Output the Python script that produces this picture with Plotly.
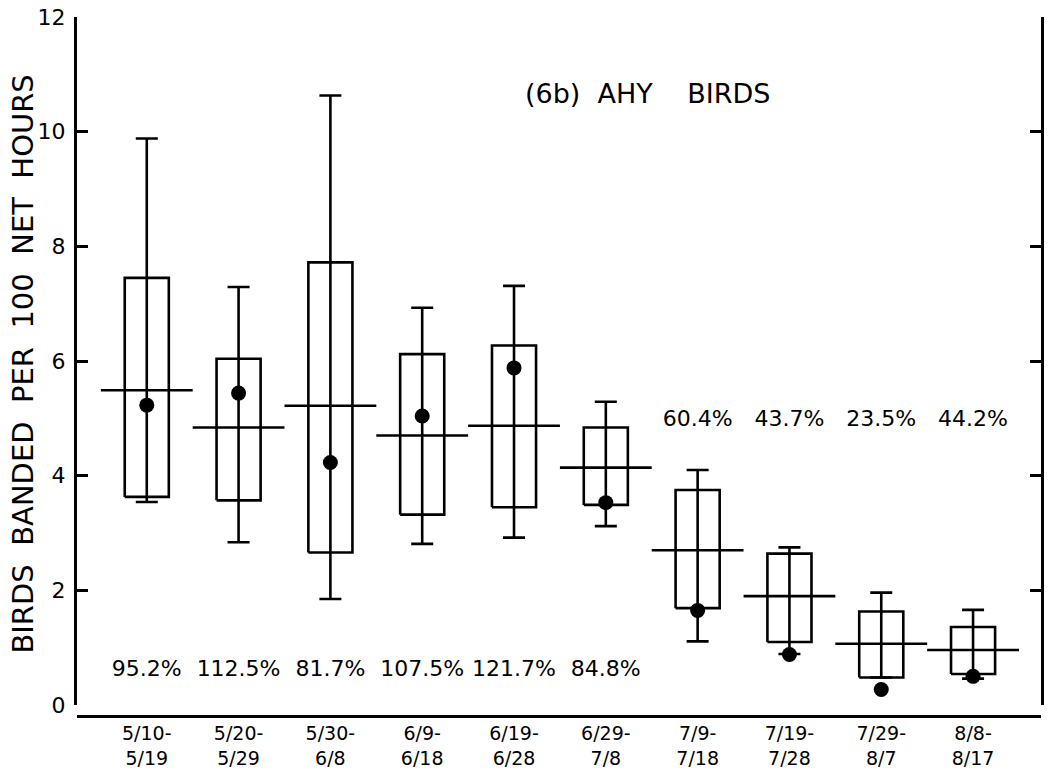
import plotly.graph_objects as go

# ---- data ----
periods = ["5/10-<br>5/19", "5/20-<br>5/29", "5/30-<br>6/8", "6/9-<br>6/18", "6/19-<br>6/28",
           "6/29-<br>7/8", "7/9-<br>7/18", "7/19-<br>7/28", "7/29-<br>8/7", "8/8-<br>8/17"]
whisker_high = [9.88, 7.29, 10.63, 6.93, 7.31, 5.29, 4.10, 2.75, 1.96, 1.66]
box_high = [7.45, 6.04, 7.72, 6.12, 6.27, 4.84, 3.75, 2.64, 1.63, 1.36]
mean_rate = [5.49, 4.84, 5.22, 4.70, 4.87, 4.14, 2.70, 1.90, 1.07, 0.96]
box_low = [3.63, 3.57, 2.66, 3.32, 3.45, 3.49, 1.69, 1.10, 0.48, 0.54]
whisker_low = [3.54, 2.84, 1.85, 2.81, 2.92, 3.12, 1.11, 0.89, 0.48, 0.46]
year_rate = [5.23, 5.44, 4.23, 5.04, 5.88, 3.53, 1.65, 0.88, 0.27, 0.50]
percent_labels = ["95.2%", "112.5%", "81.7%", "107.5%", "121.7%", "84.8%",
                  "60.4%", "43.7%", "23.5%", "44.2%"]
percent_row_low = [True, True, True, True, True, True, False, False, False, False]
y_ticks = [0, 2, 4, 6, 8, 10, 12]

FONT = "DejaVu Sans"
LW = 2.6
xs = list(range(len(periods)))
BOX_HALF = 0.24
MEAN_HALF = 0.5
NB = "\u00a0"

fig = go.Figure()

# boxes
bx, by = [], []
for i in xs:
    bx += [i - BOX_HALF, i + BOX_HALF, i + BOX_HALF, i - BOX_HALF, i - BOX_HALF, None]
    by += [box_low[i], box_low[i], box_high[i], box_high[i], box_low[i], None]
fig.add_trace(go.Scatter(x=bx, y=by, mode="lines", line=dict(color="black", width=LW),
                         hoverinfo="skip", showlegend=False))

# whiskers (range) via error bars
fig.add_trace(go.Scatter(
    x=xs, y=mean_rate, mode="markers", marker=dict(size=1, color="rgba(0,0,0,0)"),
    error_y=dict(type="data", symmetric=False,
                 array=[whisker_high[i] - mean_rate[i] for i in xs],
                 arrayminus=[mean_rate[i] - whisker_low[i] for i in xs],
                 color="black", thickness=LW, width=11),
    showlegend=False, hoverinfo="skip"))

# mean lines
mx, my = [], []
for i in xs:
    mx += [i - MEAN_HALF, i + MEAN_HALF, None]
    my += [mean_rate[i], mean_rate[i], None]
fig.add_trace(go.Scatter(x=mx, y=my, mode="lines", line=dict(color="black", width=LW),
                         hoverinfo="skip", showlegend=False))

# dots
fig.add_trace(go.Scatter(x=xs, y=year_rate, mode="markers",
                         marker=dict(size=15, color="black"), showlegend=False))

# percent labels
fig.add_trace(go.Scatter(
    x=xs, y=[0.6 if low else 4.97 for low in percent_row_low],
    mode="text", text=percent_labels,
    textfont=dict(family=FONT, size=22, color="black"),
    showlegend=False, hoverinfo="skip"))

# right-hand axis (ticks only)
fig.add_trace(go.Scatter(x=[None], y=[None], yaxis="y2", showlegend=False, hoverinfo="skip"))

fig.add_annotation(x=5.45, y=10.66, xref="x", yref="y",
                   text="(6b)" + NB * 2 + "AHY" + NB * 4 + "BIRDS", showarrow=False,
                   font=dict(family=FONT, size=27, color="black"))

fig.add_annotation(x=-0.076, y=5.95, xref="paper", yref="y", textangle=-90,
                   text=(NB * 2).join(["BIRDS", "BANDED", "PER", "100", "NET", "HOURS"]),
                   showarrow=False, font=dict(family=FONT, size=29, color="black"))

axis_common = dict(range=[0, 12], domain=[0.0157, 1], tickmode="array", tickvals=y_ticks,
                   showgrid=False, zeroline=False, showline=True, linecolor="black",
                   linewidth=3, ticks="inside", ticklen=11, tickwidth=3, tickcolor="black",
                   automargin=False)

fig.update_layout(
    width=1052, height=773,
    margin=dict(l=77, r=11, t=17, b=57),
    paper_bgcolor="white", plot_bgcolor="white",
    showlegend=False,
    xaxis=dict(range=[-0.76, 9.74], tickmode="array", tickvals=xs, ticktext=periods,
               showgrid=False, zeroline=False, showline=True, linecolor="black", linewidth=3,
               ticks="", anchor="free", position=0, ticklabelstandoff=-1, automargin=False,
               tickfont=dict(family=FONT, size=19, color="black")),
    yaxis=dict(**axis_common, ticktext=[str(v) for v in y_ticks], ticklabelstandoff=4,
               tickfont=dict(family=FONT, size=22, color="black")),
    yaxis2=dict(**axis_common, overlaying="y", side="right", anchor="x",
                showticklabels=False),
)

fig.write_html("out.html",
               config={"displayModeBar": False},
               post_script="document.body.style.margin='0';document.body.style.overflow='hidden';")
